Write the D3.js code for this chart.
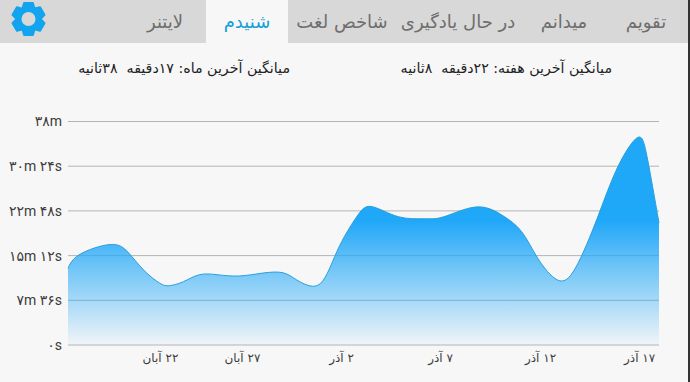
<!DOCTYPE html>
<html><head><meta charset="utf-8">
<script src="https://d3js.org/d3.v7.min.js"></script>
<style>
html,body{margin:0;padding:0;background:#f7f7f7;}
svg{display:block;}
text{font-family:"DejaVu Sans",sans-serif;}
</style></head><body>
<svg id="c" width="690" height="382"></svg>
<script>
const days=[0,0.6,2.1,3.0,3.8,4.6,5.1,5.8,6.6,7.5,8.6,9.8,10.8,11.5,12.3,12.9,13.4,13.9,14.6,15.3,16.6,17.9,18.9,20.5,21.8,22.8,23.6,24.6,25.5,26.6,27.6,28.6,29.1,29.7];
const seconds=[782,925,1025,950,765,632,605,646,717,717,704,734,737,663,599,683,901,1110,1335,1411,1309,1288,1309,1408,1326,1156,887,663,785,1295,1805,2114,1921,1244];
const yTicks=[0,456,912,1368,1824,2280];
const yLabels=["۰s","۷m ۳۶s","۱۵m ۱۲s","۲۲m ۴۸s","۳۰m ۲۴s","۳۸m"];
const xTickDays=[4.62,8.74,13.72,18.7,23.72,28.7];
const xLabels=["۲۲ آبان","۲۷ آبان","۲ آذر","۷ آذر","۱۲ آذر","۱۷ آذر"];
const tabs=["تقویم","میدانم","در حال یادگیری","شاخص لغت","شنیدم","لایتنر"];
const tabCenters=[646,564,458,342,247,165];
const summaries=["میانگین آخرین هفته: ۲۲دقیقه  ۸ثانیه","میانگین آخرین ماه: ۱۷دقیقه  ۳۸ثانیه"];
const summaryRight=[612,290];

const svg=d3.select("#c");
const x=d3.scaleLinear().domain([0,29.7]).range([68,659]);
const y=d3.scaleLinear().domain([0,2280]).range([345,121.5]);
const defs=svg.append("defs");
const g=defs.append("linearGradient").attr("id","fill").attr("gradientUnits","userSpaceOnUse")
 .attr("x1",0).attr("x2",0).attr("y1",y(1280)).attr("y2",345);
g.append("stop").attr("offset",0).attr("stop-color","#1fa7f8").attr("stop-opacity",1);
g.append("stop").attr("offset",1).attr("stop-color","#1fa7f8").attr("stop-opacity",0.03);

// header
svg.append("rect").attr("width",690).attr("height",43).attr("fill","#d8d8d8");
svg.append("rect").attr("x",206).attr("width",82).attr("height",43).attr("fill","#f7f7f7");
svg.selectAll(".tab").data(tabs).join("text").attr("class","tab")
 .attr("x",(d,i)=>tabCenters[i]).attr("y",28).attr("text-anchor","middle")
 .attr("font-size",18).attr("fill",(d,i)=>i===4?"#12a0d8":"#6e6e6e").attr("direction","rtl").text(d=>d);

// gear
const gear=svg.append("g").attr("transform","translate(28.5,19)");
const ro=16.5,ri=12;
const pts=[];
for(let i=0;i<6;i++){const a=i*Math.PI/3-Math.PI/2;
 [-0.27,0.27].forEach(o=>pts.push([ro*Math.cos(a+o),ro*Math.sin(a+o)]));
 [0.52].forEach(o=>pts.push([ri*Math.cos(a+o),ri*Math.sin(a+o)]));}
gear.append("path").attr("d",d3.line().curve(d3.curveLinearClosed)(pts)).attr("fill","#12a4ee").attr("stroke","#12a4ee").attr("stroke-width",2).attr("stroke-linejoin","round");
gear.append("circle").attr("r",7).attr("fill","#d8d8d8");

// summaries
svg.selectAll(".sum").data(summaries).join("text").attr("class","sum")
 .attr("x",(d,i)=>summaryRight[i]).attr("y",73).attr("text-anchor","start").attr("direction","rtl")
 .attr("font-size",14.2).attr("fill","#222").style("white-space","pre").text(d=>d);

// grid
svg.selectAll(".grid").data(yTicks).join("line").attr("class","grid")
 .attr("x1",68).attr("x2",659).attr("y1",d=>y(d)).attr("y2",d=>y(d))
 .attr("stroke","#b4b4b4").attr("stroke-width",1);

const area=d3.area().x((d,i)=>x(days[i])).y0(y(0)).y1(d=>y(d)).curve(d3.curveNatural);
const line=d3.line().x((d,i)=>x(days[i])).y(d=>y(d)).curve(d3.curveNatural);
svg.append("path").datum(seconds).attr("d",area).attr("fill","url(#fill)");
svg.append("path").datum(seconds).attr("d",line).attr("fill","none").attr("stroke","#2a9fdc").attr("stroke-width",1);

// axis labels
const labelFont='Roboto,"DejaVu Sans",sans-serif';
const yAxis=d3.axisLeft(y).tickValues(yTicks).tickFormat((d,i)=>yLabels[i]).tickSize(0).tickPadding(0);
const ya=svg.append("g").attr("transform","translate(62,0)").call(yAxis);
ya.select(".domain").remove();
ya.selectAll("text").attr("font-size",14).attr("fill","#3c3c3c").style("font-family",labelFont).attr("direction","ltr");

const xAxis=d3.axisBottom(x).tickValues(xTickDays).tickFormat((d,i)=>xLabels[i]).tickSize(0).tickPadding(0);
const xa=svg.append("g").attr("transform","translate(0,353)").call(xAxis);
xa.select(".domain").remove();
xa.selectAll("text").attr("font-size",12).attr("fill","#3c3c3c").style("font-family",'"DejaVu Sans",sans-serif').attr("direction","rtl");

// right edge
svg.append("rect").attr("x",688).attr("width",2).attr("height",382).attr("fill","#333");
</script></body></html>
